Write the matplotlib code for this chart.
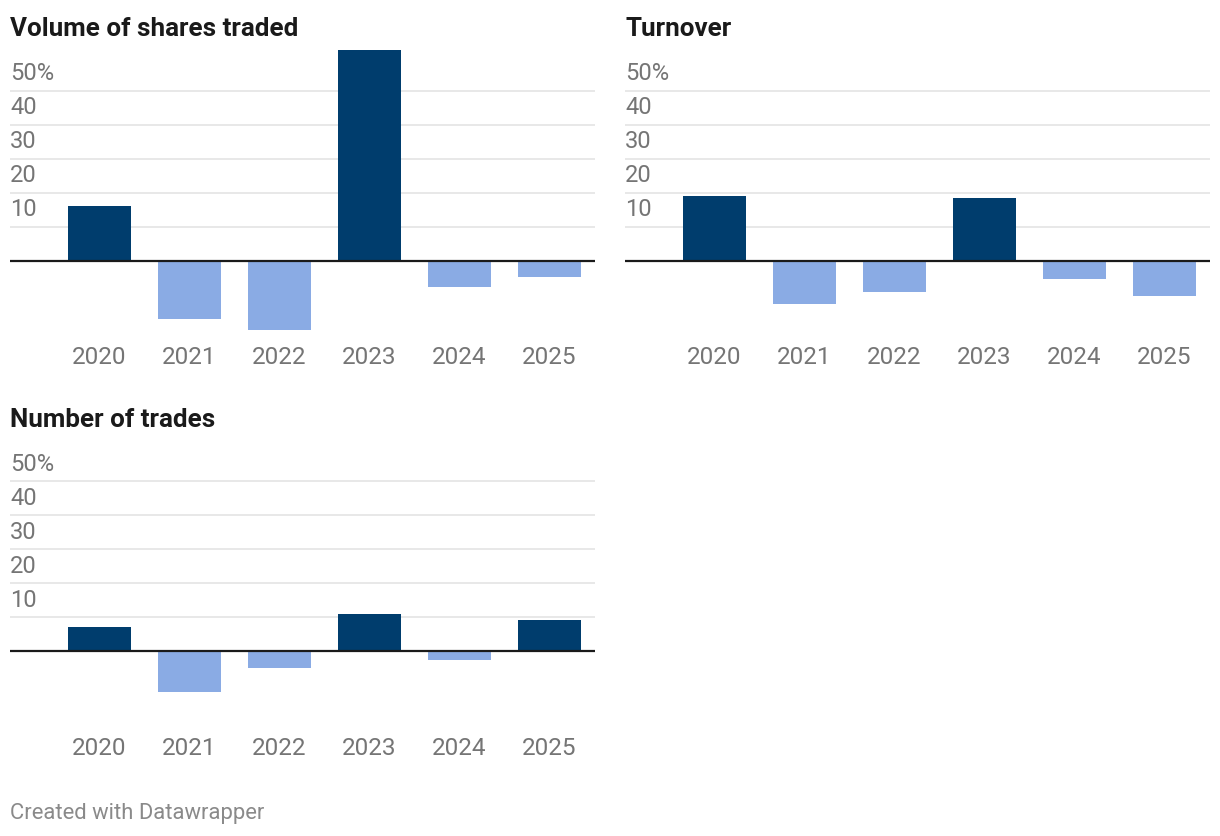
import matplotlib.pyplot as plt
from matplotlib.transforms import offset_copy

plt.rcParams['font.family'] = ['Roboto', 'DejaVu Sans']

years = ["2020", "2021", "2022", "2023", "2024", "2025"]

volume = [16.0, -17.2, -20.4, 61.9, -7.7, -4.8]
turnover = [19.0, -12.8, -9.2, 18.4, -5.3, -10.3]
trades = [7.0, -12.1, -5.0, 10.8, -2.6, 9.0]

titles = ["Volume of shares traded", "Turnover", "Number of trades"]
series = [volume, turnover, trades]

grid_ticks = [10, 20, 30, 40, 50]
grid_labels = ["10", "20", "30", "40", "50%"]

dark_blue = "#003d6d"
light_blue = "#8aabe4"
text_grey = "#757575"

W, H = 1220, 836
fig = plt.figure(figsize=(W / 100, H / 100), dpi=100)

px_per_unit = 3.4
ymin, ymax = -22, 65

# (left x, right x, zero-line y) in pixels for each panel
panels = [(10, 595, 260.5), (625, 1210, 260.5), (10, 595, 650.7)]

for (x0, x1, zero_y), title, values in zip(panels, titles, series):
    top = zero_y - ymax * px_per_unit
    bottom = zero_y - ymin * px_per_unit
    ax = fig.add_axes([x0 / W, 1 - bottom / H, (x1 - x0) / W, (bottom - top) / H])

    colors = [dark_blue if v >= 0 else light_blue for v in values]
    ax.bar(range(len(years)), values, width=0.7, color=colors, zorder=2)

    for t, lab in zip(grid_ticks, grid_labels):
        ax.axhline(t, color="#e6e6e6", lw=1.3, zorder=1)
        trans = offset_copy(ax.get_yaxis_transform(), fig=fig, x=0, y=5, units="dots")
        ax.text(0, t, lab, transform=trans, ha="left", va="bottom",
                fontsize=17, color=text_grey)
    ax.axhline(0, color="#1a1a1a", lw=1.6, zorder=3)

    ax.set_xlim(-0.99, 5.51)
    ax.set_ylim(ymin, ymax)
    ax.set_xticks(range(len(years)), years)
    ax.set_yticks([])
    ax.tick_params(axis="x", length=0, pad=8, labelsize=17.5, labelcolor=text_grey)
    for s in ax.spines.values():
        s.set_visible(False)
    ax.patch.set_alpha(0)

    fig.text(x0 / W, 1 - (zero_y - 231) / H, title, ha="left", va="center",
             fontsize=18.7, fontweight="bold", color="#1a1a1a")

fig.text(10 / W, 1 - 813 / H, "Created with Datawrapper", ha="left", va="center",
         fontsize=15.8, color="#8a8a8a")

fig.savefig("out.png", dpi=100)
